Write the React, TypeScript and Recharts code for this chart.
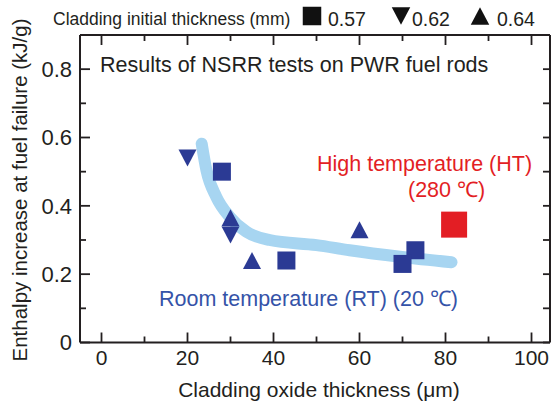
import * as React from 'react';
import { ScatterChart, Scatter, XAxis, YAxis } from 'recharts';

// Room temperature tests, by cladding initial thickness (mm)
const rtSquare057 = [
  { x: 28, y: 0.5 },
  { x: 43, y: 0.24 },
  { x: 73, y: 0.27 },
  { x: 70, y: 0.23 },
];
const rtDown062 = [
  { x: 20, y: 0.54 },
  { x: 30, y: 0.315 },
];
const rtUp064 = [
  { x: 30, y: 0.365 },
  { x: 35, y: 0.24 },
  { x: 60, y: 0.33 },
];
// High temperature test
const htSquare057 = [{ x: 82, y: 0.345 }];

// hand-drawn trend band
const trendBand = [
  { x: 23.3, y: 0.582 },
  { x: 24.4, y: 0.504 },
  { x: 26.7, y: 0.426 },
  { x: 29.8, y: 0.368 },
  { x: 33.7, y: 0.324 },
  { x: 39.1, y: 0.3 },
  { x: 50, y: 0.285 },
  { x: 57.7, y: 0.27 },
  { x: 69.4, y: 0.251 },
  { x: 81.4, y: 0.235 },
];

const xTicks = [0, 10, 20, 30, 40, 50, 60, 70, 80, 90, 100];
const yTicks = [0, 0.1, 0.2, 0.3, 0.4, 0.5, 0.6, 0.7, 0.8];
const legendItems = [
  { shape: 'square', label: '0.57' },
  { shape: 'down', label: '0.62' },
  { shape: 'up', label: '0.64' },
];

const FONT = '"Liberation Sans", Arial, sans-serif';
const INK = '#231f20';
const BLUE = '#2b3a94';
const RED = '#e31e24';

function Marker({ kind, cx, cy, size, fill }: { kind: string; cx: number; cy: number; size: number; fill: string }) {
  const h = size / 2;
  if (kind === 'square') return <rect x={cx - h} y={cy - h} width={size} height={size} fill={fill} />;
  if (kind === 'up')
    return <polygon points={`${cx - h},${cy + h - 0.5} ${cx + h},${cy + h - 0.5} ${cx},${cy - h + 0.5}`} fill={fill} />;
  return <polygon points={`${cx - h},${cy - h + 0.5} ${cx + h},${cy - h + 0.5} ${cx},${cy + h - 0.5}`} fill={fill} />;
}

const shapeOf = (kind: string, size: number, fill: string) => (p: any) =>
  <Marker kind={kind} cx={p.cx} cy={p.cy} size={size} fill={fill} />;

const xTick = (side: 'bottom' | 'top') => (p: any) => {
  const v = p.payload.value;
  const major = Math.round(v) % 20 === 0;
  const len = major ? 10 : 6;
  const dir = side === 'bottom' ? -1 : 1;
  return (
    <g>
      <line x1={p.x} x2={p.x} y1={p.y} y2={p.y + dir * len} stroke={INK} strokeWidth={1.8} />
      {side === 'bottom' && major && (
        <text x={p.x} y={p.y + 22.5} textAnchor="middle" fontSize={21} fontFamily={FONT} fill={INK}>
          {v}
        </text>
      )}
    </g>
  );
};

const yTick = (side: 'left' | 'right') => (p: any) => {
  const v = p.payload.value;
  const major = Math.round(v * 10) % 2 === 0;
  const len = side === 'left' ? (major ? 10 : 6) : 7;
  const dir = side === 'left' ? 1 : -1;
  return (
    <g>
      <line x1={p.x} x2={p.x + dir * len} y1={p.y} y2={p.y} stroke={INK} strokeWidth={1.8} />
      {side === 'left' && major && (
        <text x={p.x - 8} y={p.y} dy="0.36em" textAnchor="end" fontSize={22} fontFamily={FONT} fill={INK}>
          {v === 0 ? '0' : v.toFixed(1)}
        </text>
      )}
    </g>
  );
};

function Annotations() {
  const legendX = [303, 392, 471];
  const labelX = [328, 412, 497];
  return (
    <g fontFamily={FONT}>
      <text x={53} y={25} fontSize={17.5} fill={INK}>Cladding initial thickness (mm)</text>
      {legendItems.map((it, i) => (
        <g key={it.label}>
          <Marker kind={it.shape} cx={legendX[i] + 9} cy={16} size={18.5} fill="#111" />
          <text x={labelX[i]} y={25.5} fontSize={19.5} fill={INK}>{it.label}</text>
        </g>
      ))}
      <text x={100} y={71.5} fontSize={21.5} fill={INK}>Results of NSRR tests on PWR fuel rods</text>
      <text x={317} y={171} fontSize={21.5} fill={RED}>High temperature (HT)</text>
      <text x={408} y={197} fontSize={21.5} fill={RED}>(280 ℃)</text>
      <text x={159} y={306} fontSize={21.5} fill="#3553a8">Room temperature (RT) (20 ℃)</text>
      <text x={319} y={397} textAnchor="middle" fontSize={21} fill={INK}>Cladding oxide thickness (μm)</text>
      <text x={27} y={190} transform="rotate(-90 27 190)" textAnchor="middle" fontSize={20.5} fill={INK}>
        Enthalpy increase at fuel failure (kJ/g)
      </text>
    </g>
  );
}

export default function App() {
  const axisLine = { stroke: INK, strokeWidth: 2 };
  return (
    <div style={{ position: 'fixed', left: 0, top: 0, background: '#fff' }}>
      <ScatterChart width={554} height={404} margin={{ top: 34, right: 3, bottom: 0, left: 0 }}>
        <XAxis xAxisId="b" type="number" dataKey="x" domain={[-5, 104.3]} ticks={xTicks} interval={0}
          orientation="bottom" height={61.5} tickSize={0} tickMargin={0} tickLine={false}
          axisLine={axisLine} tick={xTick('bottom')} allowDataOverflow />
        <XAxis xAxisId="t" type="number" dataKey="x" domain={[-5, 104.3]} ticks={xTicks} interval={0}
          orientation="top" height={1} tickSize={0} tickMargin={0} tickLine={false}
          axisLine={axisLine} tick={xTick('top')} allowDataOverflow />
        <YAxis yAxisId="l" type="number" dataKey="y" domain={[0, 0.9]} ticks={yTicks} interval={0}
          orientation="left" width={80} tickSize={0} tickMargin={0} tickLine={false}
          axisLine={axisLine} tick={yTick('left')} allowDataOverflow />
        <YAxis yAxisId="r" type="number" dataKey="y" domain={[0, 0.9]} ticks={yTicks} interval={0}
          orientation="right" width={1} tickSize={0} tickMargin={0} tickLine={false}
          axisLine={axisLine} tick={yTick('right')} allowDataOverflow />
        <Scatter xAxisId="b" yAxisId="l" data={trendBand} isAnimationActive={false}
          line={{ stroke: '#a7d5f1', strokeWidth: 12, strokeLinecap: 'round' }}
          lineJointType="monotoneX" shape={() => <g />} />
        <Scatter xAxisId="b" yAxisId="l" data={rtSquare057} isAnimationActive={false} shape={shapeOf('square', 18, BLUE)} />
        <Scatter xAxisId="b" yAxisId="l" data={rtDown062} isAnimationActive={false} shape={shapeOf('down', 18, BLUE)} />
        <Scatter xAxisId="b" yAxisId="l" data={rtUp064} isAnimationActive={false} shape={shapeOf('up', 18, BLUE)} />
        <Scatter xAxisId="b" yAxisId="l" data={htSquare057} isAnimationActive={false} shape={shapeOf('square', 26, RED)} />
        <Annotations />
      </ScatterChart>
    </div>
  );
}
